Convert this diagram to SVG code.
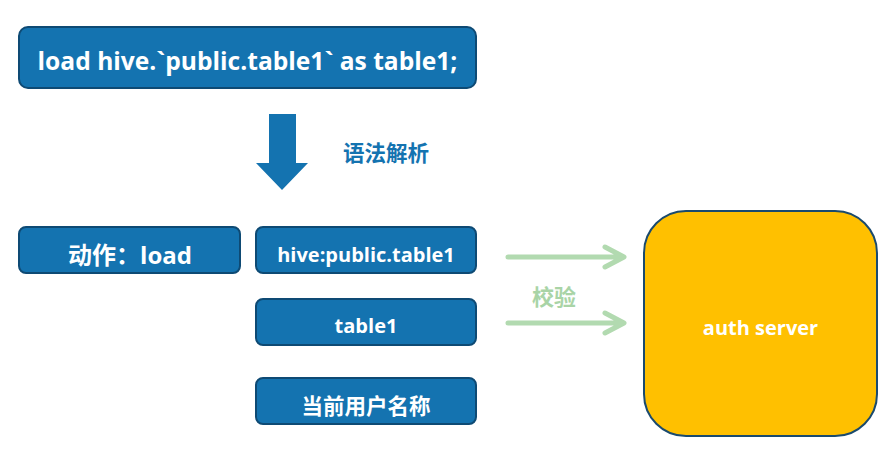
<svg xmlns="http://www.w3.org/2000/svg" width="894" height="461" viewBox="0 0 894 461">
<style>
.box{fill:#1473b0;stroke:#0e4a74;stroke-width:2}
.t{font-family:"Open Sans","Noto Sans CJK SC",sans-serif;font-weight:bold;fill:#fff;text-anchor:middle}
.g{fill:none;stroke:#b2dab0;stroke-width:5;stroke-linecap:round;stroke-linejoin:round}
</style>
<rect width="894" height="461" fill="#fff"/>
<g id="sql">
<rect class="box" x="19" y="27" width="457" height="61" rx="9"/>
<text class="t" x="247.5" y="70" font-size="24.6">load hive.`public.table1` as table1;</text>
</g>
<g id="parse-arrow">
<polygon points="269,114 296,114 296,163 308,163 282,190 256,163 269,163" fill="#1473b0"/>
<text x="386" y="161" font-family="'Noto Sans CJK SC',sans-serif" font-weight="bold" font-size="21.5" fill="#1473b0" text-anchor="middle">语法解析</text>
</g>
<g id="action">
<rect class="box" x="19" y="227" width="221" height="46" rx="7"/>
<text class="t" x="130" y="264" font-size="24">动作：load</text>
</g>
<g id="table-src">
<rect class="box" x="256" y="227" width="220" height="46" rx="7"/>
<text class="t" x="366" y="262" font-size="20">hive:public.table1</text>
</g>
<g id="table-alias">
<rect class="box" x="256" y="299" width="220" height="46" rx="7"/>
<text class="t" x="366" y="333" font-size="20">table1</text>
</g>
<g id="user">
<rect class="box" x="256" y="378" width="220" height="46" rx="7"/>
<text class="t" x="366" y="414" font-size="21.5">当前用户名称</text>
</g>
<g id="connectors">
<path class="g" d="M508,257 H623 M605,247 L624,257 L605,267"/>
<path class="g" d="M508,323 H623 M605,313 L624,323 L605,333"/>
<text x="554" y="305" font-family="'Noto Sans CJK SC',sans-serif" font-weight="bold" font-size="22" fill="#a9d4a6" text-anchor="middle">校验</text>
</g>
<g id="auth">
<rect x="644" y="211" width="233" height="225" rx="42" fill="#ffc000" stroke="#1a4a6e" stroke-width="2"/>
<text class="t" x="760.5" y="335" font-size="20">auth server</text>
</g>
</svg>
